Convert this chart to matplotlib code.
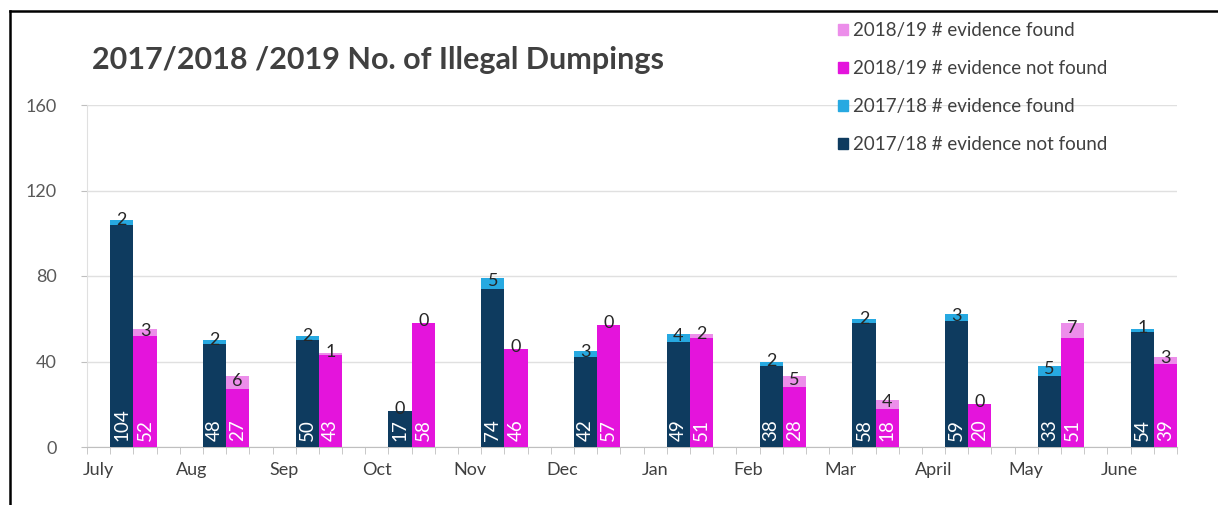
import numpy as np
import matplotlib.pyplot as plt
from matplotlib.lines import Line2D
from matplotlib.patches import Patch

plt.rcParams['font.family'] = ['Lato', 'DejaVu Sans']

months = ["July", "Aug", "Sep", "Oct", "Nov", "Dec", "Jan", "Feb", "Mar", "April", "May", "June"]
nf_1718 = [104, 48, 50, 17, 74, 42, 49, 38, 58, 59, 33, 54]
f_1718 = [2, 2, 2, 0, 5, 3, 4, 2, 2, 3, 5, 1]
nf_1819 = [52, 27, 43, 58, 46, 57, 51, 28, 18, 20, 51, 39]
f_1819 = [3, 6, 1, 0, 0, 0, 2, 5, 4, 0, 7, 3]

c_dark = "#0e3b5f"
c_blue = "#27a9e1"
c_mag = "#e414dc"
c_pink = "#ec8eea"

fig = plt.figure(figsize=(12.18, 5.05), dpi=100)
ax = fig.add_axes([87/1218, 1-447/505, (1177-87)/1218, (447-105)/505])

idx = np.arange(len(months))
x1 = idx*4 + 1.5
x2 = idx*4 + 2.5

ax.bar(x1, nf_1718, width=1, color=c_dark, zorder=3)
ax.bar(x1, f_1718, width=1, bottom=nf_1718, color=c_blue, zorder=3)
ax.bar(x2, nf_1819, width=1, color=c_mag, zorder=3)
ax.bar(x2, f_1819, width=1, bottom=nf_1819, color=c_pink, zorder=3)

for i in range(len(months)):
    ax.text(x1[i], 3, str(nf_1718[i]), rotation=90, ha="center", va="bottom",
            color="white", fontsize=13.5, zorder=4)
    ax.text(x2[i], 3, str(nf_1819[i]), rotation=90, ha="center", va="bottom",
            color="white", fontsize=13.5, zorder=4)
    ax.text(x1[i], nf_1718[i] + f_1718[i]/2 + 1, str(f_1718[i]), ha="center", va="center",
            color="#262626", fontsize=13, zorder=4)
    ax.text(x2[i], nf_1819[i] + f_1819[i]/2 + 1, str(f_1819[i]), ha="center", va="center",
            color="#262626", fontsize=13, zorder=4)

ax.set_xlim(0, 47)
ax.set_ylim(0, 160)
ax.set_yticks([0, 40, 80, 120, 160])
ax.tick_params(axis="y", length=4, color="#bfbfbf", labelcolor="#595959", labelsize=13, pad=18)
ax.set_xticks(idx*4 + 0.5)
ax.set_xticklabels(months)
ax.set_xticks(np.arange(0, 48), minor=True)
ax.tick_params(axis="x", which="major", length=0, labelcolor="#404040", labelsize=13, pad=11)
ax.tick_params(axis="x", which="minor", length=5, color="#bfbfbf")
ax.grid(axis="y", color="#e0e0e0", linewidth=1, zorder=0)
for s in ["top", "right"]:
    ax.spines[s].set_visible(False)
ax.spines["bottom"].set_color("#bfbfbf")
ax.spines["left"].set_color("#e0e0e0")

fig.text(92/1218, 1-60/505, "2017/2018 /2019 No. of Illegal Dumpings", fontsize=22,
         fontweight="bold", color="#404040", va="center", ha="left")

handles = [Patch(color=c_pink), Patch(color=c_mag), Patch(color=c_blue), Patch(color=c_dark)]
labels = ["2018/19 # evidence found", "2018/19 # evidence not found",
          "2017/18 # evidence found", "2017/18 # evidence not found"]
fig.legend(handles, labels, loc="upper left", bbox_to_anchor=(821/1218, 1-5/505),
           frameon=False, fontsize=13.5, labelcolor="#404040", handlelength=0.55,
           handleheight=0.55, handletextpad=0.25, labelspacing=1.12)

fig.add_artist(Line2D([10/1218, 1], [1-11/505, 1-11/505], color="black", lw=1.8))
fig.add_artist(Line2D([10/1218, 10/1218], [0, 1-11/505], color="black", lw=1.8))

fig.savefig("out.png", dpi=100)
